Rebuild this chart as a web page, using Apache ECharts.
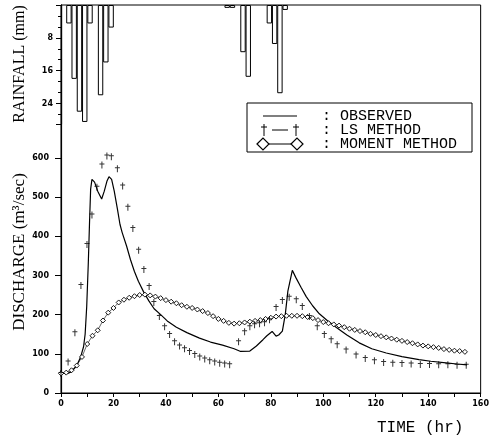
<!DOCTYPE html>
<html>
<head>
<meta charset="utf-8">
<script src="https://cdn.jsdelivr.net/npm/echarts@6/dist/echarts.min.js"></script>
<style>
  html, body { margin: 0; padding: 0; background: #fff; }
  #chart { width: 492px; height: 440px; }
</style>
</head>
<body>
<div id="chart"></div>
<script>
// Hyetograph (2-hr rainfall blocks), depth in mm
const rainTime  = [3, 5, 7, 9, 11, 15, 17, 19, 63, 65, 69, 71, 79, 81, 83, 85];
const rainDepth = [4.5, 18, 26, 28.5, 4.5, 22, 14, 5.5, 0.7, 0.7, 11.5, 17.5, 4.5, 9.5, 21.5, 1.2];

// Observed discharge hydrograph (m3/sec)
const obsTime = [0, 2.5, 4, 6, 7.5, 8.6, 9.2, 9.8, 10.4, 10.9, 11.3, 11.8, 12.8, 14, 15.5, 16.5, 17.5, 18.3,
  19.3, 20.3, 21.5, 22.5, 23.3, 25, 26.5, 28, 29.5, 31.5, 33.5, 35.5, 38, 40.5, 44, 48, 52.8, 57, 61.6, 66,
  68.5, 72, 74.5, 77, 78.5, 80.5, 82, 83, 84.4, 85.5, 86.5, 88.2, 89.5, 91.5, 93.5, 96, 98.5, 101.5, 105,
  109, 113.7, 118.5, 124, 130, 136.5, 141, 146.8, 151, 154.8];
const obsQ = [50, 50, 54, 70, 92, 118, 150, 220, 330, 440, 520, 545, 538, 515, 495, 515, 540, 552,
  545, 515, 470, 430, 410, 375, 340, 310, 285, 258, 235, 215, 200, 184, 168, 154, 140, 130, 122, 113,
  106, 107, 120, 136, 146, 157, 145, 148, 158, 200, 260, 313, 295, 270, 246, 222, 202, 185, 167,
  148, 128, 113, 102, 93, 85, 81, 77, 74, 72];

// LS method simulated discharge
const lsTime = [0, 2.7, 5.3, 7.6, 9.9, 11.8, 13.7, 15.6, 17.5, 19.2, 21.5, 23.5, 25.5, 27.4, 29.6, 31.6,
  33.6, 35.4, 37.5, 39.5, 41.4, 43.3, 45.2, 47.1, 49, 51, 52.9, 54.8, 56.7, 58.6, 60.5, 62.4, 64.3,
  67.7, 70, 72, 73.8, 75.7, 77.6, 79.5, 82, 84.4, 87, 89.7, 92, 94.7, 97.7, 100.4, 103, 105.3, 108.7,
  112.5, 116, 119.5, 123, 126.5, 130, 133.5, 137, 140.5, 144, 147.5, 151, 154.5];
const lsQ = [50, 79, 154, 274, 379, 454, 525, 582, 605, 603, 572, 528, 474, 420, 364, 315,
  272, 231, 195, 169, 149, 131, 120, 113, 106, 98, 92, 87, 82, 79, 76, 74, 72,
  131, 156, 169, 174, 177, 179, 187, 218, 236, 244, 238, 221, 195, 169, 149, 136, 123, 110,
  97, 88, 82, 78, 76, 75, 74, 73, 73, 72, 72, 71, 71];

// Moment method simulated discharge
const momTime = [0, 2, 4, 6, 8, 10, 12, 14, 16, 18, 20, 22, 24, 26, 28, 30, 32, 34, 36, 38, 40, 42, 44, 46,
  48, 50, 52, 54, 56, 58, 60, 62, 64, 66, 68, 70, 72, 74, 76, 78, 80, 82, 84, 86, 88, 90, 92, 94, 96, 98,
  100, 102, 104, 106, 108, 110, 112, 114, 116, 118, 120, 122, 124, 126, 128, 130, 132, 134, 136, 138,
  140, 142, 144, 146, 148, 150, 152, 154];
const momQ = [50, 52, 58, 70, 92, 125, 146, 160, 185, 205, 217, 231, 238, 243, 247, 250, 251, 249, 246, 242, 237, 233, 229, 224,
  220, 217, 213, 209, 204, 196, 189, 184, 179, 177, 178, 180, 182, 184, 186, 189, 192, 195, 196, 197, 197, 197, 196, 194, 191, 186,
  181, 178, 175, 172, 168, 164, 161, 158, 155, 151, 148, 145, 142, 139, 136, 133, 130, 127, 124, 121,
  119, 117, 115, 112, 110, 108, 107, 105];

// Axis tick values
const timeLabels = [0, 20, 40, 60, 80, 100, 120, 140, 160];
const dischargeTicks = [0, 100, 200, 300, 400, 500, 600];
const rainLabels = [8, 16, 24];

const pairs = (xs, ys) => xs.map((x, i) => [x, ys[i]]);

const tickFont = { color: '#000', fontSize: 8, fontWeight: 'bold', fontFamily: 'DejaVu Sans' };
const ink = '#000';

// legend drawn as plotter-style key
const legendRows = [116, 130, 144];
const legendFont = { fill: ink, fontSize: 15, fontFamily: 'Liberation Mono', verticalAlign: 'middle' };
const legendGraphics = [
  { type: 'rect', shape: { x: 247, y: 103, width: 225, height: 49 }, style: { fill: null, stroke: ink, lineWidth: 1 } },
  { type: 'line', shape: { x1: 263, y1: legendRows[0], x2: 297, y2: legendRows[0] }, style: { stroke: ink, lineWidth: 1.2 } },
  { type: 'line', shape: { x1: 264, y1: legendRows[1] - 6, x2: 264, y2: legendRows[1] + 6 }, style: { stroke: ink, lineWidth: 1 } },
  { type: 'line', shape: { x1: 261, y1: legendRows[1] - 3, x2: 267, y2: legendRows[1] - 3 }, style: { stroke: ink, lineWidth: 1 } },
  { type: 'line', shape: { x1: 296, y1: legendRows[1] - 6, x2: 296, y2: legendRows[1] + 6 }, style: { stroke: ink, lineWidth: 1 } },
  { type: 'line', shape: { x1: 293, y1: legendRows[1] - 3, x2: 299, y2: legendRows[1] - 3 }, style: { stroke: ink, lineWidth: 1 } },
  { type: 'line', shape: { x1: 272, y1: legendRows[1], x2: 288, y2: legendRows[1] }, style: { stroke: ink, lineWidth: 1 } },
  { type: 'polygon', shape: { points: [[257, legendRows[2]], [263, legendRows[2] - 6], [269, legendRows[2]], [263, legendRows[2] + 6]] }, style: { fill: '#fff', stroke: ink, lineWidth: 1.2 } },
  { type: 'polygon', shape: { points: [[291, legendRows[2]], [297, legendRows[2] - 6], [303, legendRows[2]], [297, legendRows[2] + 6]] }, style: { fill: '#fff', stroke: ink, lineWidth: 1.2 } },
  { type: 'line', shape: { x1: 269, y1: legendRows[2], x2: 291, y2: legendRows[2] }, style: { stroke: ink, lineWidth: 1 } },
  { type: 'text', x: 322, y: legendRows[0], style: Object.assign({ text: ':' }, legendFont) },
  { type: 'text', x: 322, y: legendRows[1], style: Object.assign({ text: ':' }, legendFont) },
  { type: 'text', x: 322, y: legendRows[2], style: Object.assign({ text: ':' }, legendFont) },
  { type: 'text', x: 340, y: legendRows[0], style: Object.assign({ text: 'OBSERVED' }, legendFont) },
  { type: 'text', x: 340, y: legendRows[1], style: Object.assign({ text: 'LS METHOD' }, legendFont) },
  { type: 'text', x: 340, y: legendRows[2], style: Object.assign({ text: 'MOMENT METHOD' }, legendFont) }
];

const titleGraphics = [
  { type: 'text', x: 20, y: 64, rotation: Math.PI / 2,
    style: { text: 'RAINFALL (mm)', fill: ink, fontSize: 16, fontFamily: 'Liberation Serif', align: 'center', verticalAlign: 'middle' } },
  { type: 'text', x: 20, y: 252, rotation: Math.PI / 2,
    style: { text: 'DISCHARGE (m³/sec)', fill: ink, fontSize: 17, fontFamily: 'Liberation Serif', align: 'center', verticalAlign: 'middle' } },
  { type: 'text', x: 377, y: 428,
    style: { text: 'TIME (hr)', fill: ink, fontSize: 16, fontFamily: 'Liberation Mono', align: 'left', verticalAlign: 'middle' } }
];

const chart = echarts.init(document.getElementById('chart'), null, { renderer: 'canvas' });
chart.setOption({
  animation: false,
  backgroundColor: '#fff',
  grid: [
    { left: 61, right: 9, top: 5, bottom: 47, show: true, borderColor: ink, borderWidth: 1, backgroundColor: 'transparent' },
    { left: 61, right: 9, top: 5, height: 119 }
  ],
  xAxis: [
    { type: 'value', gridIndex: 0, min: 0, max: 160, interval: 10,
      axisLine: { lineStyle: { color: ink, width: 1.2 } },
      axisTick: { length: 4, lineStyle: { color: ink } },
      axisLabel: Object.assign({ margin: 7, formatter: v => timeLabels.includes(v) ? String(v) : '' }, tickFont),
      splitLine: { show: false } },
    { type: 'value', gridIndex: 1, min: 0, max: 160, show: false }
  ],
  yAxis: [
    { type: 'value', gridIndex: 0, min: 0, max: 990,
      axisLine: { show: true, lineStyle: { color: ink, width: 1.2 } },
      axisTick: { show: true, length: 6, customValues: dischargeTicks, lineStyle: { color: ink } },
      axisLabel: Object.assign({ margin: 12, customValues: dischargeTicks }, tickFont),
      splitLine: { show: false } },
    { type: 'value', gridIndex: 1, min: 0, max: 29, interval: 8, inverse: true,
      axisLine: { show: true, lineStyle: { color: ink, width: 1.2 } },
      axisTick: { show: true, length: 5, lineStyle: { color: ink } },
      minorTick: { show: true, splitNumber: 3, length: 3, lineStyle: { color: ink } },
      axisLabel: Object.assign({ margin: 8, showMaxLabel: false, formatter: v => rainLabels.includes(v) ? String(v) : '' }, tickFont),
      splitLine: { show: false } }
  ],
  series: [
    { name: 'Rainfall', type: 'bar', xAxisIndex: 1, yAxisIndex: 1, barWidth: 5.4,
      data: pairs(rainTime, rainDepth),
      itemStyle: { color: '#fff', borderColor: ink, borderWidth: 1 } },
    { name: 'Observed', type: 'line', xAxisIndex: 0, yAxisIndex: 0, showSymbol: false,
      data: pairs(obsTime, obsQ), lineStyle: { color: ink, width: 1.2 }, z: 3 },
    { name: 'Moment method', type: 'line', xAxisIndex: 0, yAxisIndex: 0,
      data: pairs(momTime, momQ), symbol: 'diamond', symbolSize: 5, showAllSymbol: true,
      lineStyle: { color: ink, width: 0.6 },
      itemStyle: { color: '#fff', borderColor: ink, borderWidth: 0.9 }, z: 4 },
    { name: 'LS method', type: 'scatter', xAxisIndex: 0, yAxisIndex: 0,
      data: pairs(lsTime, lsQ),
      symbol: 'path://M4,0h2v4h4v2h-4v8h-2v-8h-4v-2h4z', symbolSize: [5, 7],
      itemStyle: { color: ink }, z: 5 }
  ],
  graphic: titleGraphics.concat(legendGraphics)
});
</script>
</body>
</html>
